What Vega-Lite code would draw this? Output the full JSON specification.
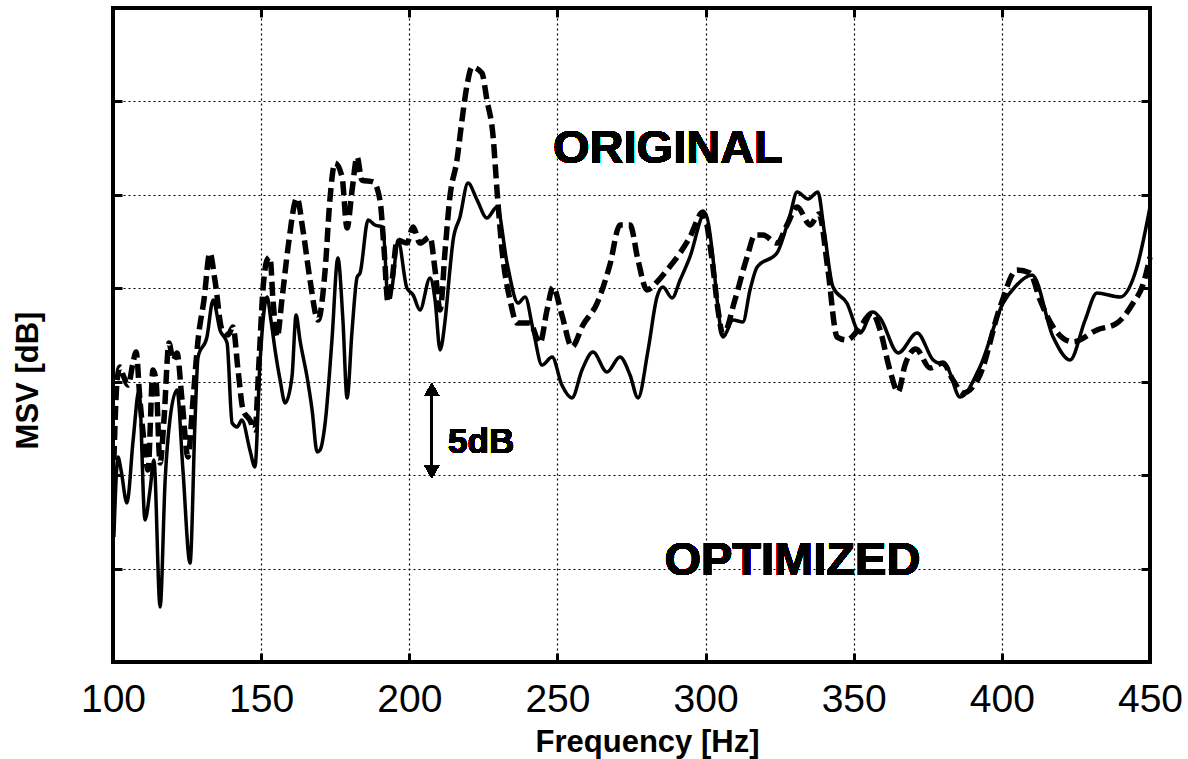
{
  "$schema": "https://vega.github.io/schema/vega-lite/v6.json",
  "width": 1037,
  "height": 654,
  "autosize": {"type": "none"},
  "padding": {"left": 113, "top": 8, "right": 38, "bottom": 97},
  "background": "white",
  "config": {
    "view": {"stroke": "black", "strokeWidth": 4},
    "font": "Liberation Sans",
    "axis": {"labelColor": "black", "titleColor": "black", "tickColor": "black", "gridColor": "black", "gridOpacity": 1}
  },
  "datasets": {
    "curves": [
      {"series": "OPTIMIZED", "freq": 100.3, "db": 6.69},
      {"series": "OPTIMIZED", "freq": 101.7, "db": 10.97},
      {"series": "OPTIMIZED", "freq": 102.7, "db": 10.28},
      {"series": "OPTIMIZED", "freq": 104.7, "db": 8.51},
      {"series": "OPTIMIZED", "freq": 106.8, "db": 11.88},
      {"series": "OPTIMIZED", "freq": 108.8, "db": 14.56},
      {"series": "OPTIMIZED", "freq": 110.8, "db": 7.6},
      {"series": "OPTIMIZED", "freq": 112.5, "db": 9.2},
      {"series": "OPTIMIZED", "freq": 113.8, "db": 10.81},
      {"series": "OPTIMIZED", "freq": 115.9, "db": 2.94},
      {"series": "OPTIMIZED", "freq": 117.6, "db": 9.74},
      {"series": "OPTIMIZED", "freq": 119.2, "db": 12.95},
      {"series": "OPTIMIZED", "freq": 121.6, "db": 14.56},
      {"series": "OPTIMIZED", "freq": 123.6, "db": 10.28},
      {"series": "OPTIMIZED", "freq": 126.0, "db": 5.3},
      {"series": "OPTIMIZED", "freq": 127.7, "db": 12.95},
      {"series": "OPTIMIZED", "freq": 128.7, "db": 16.32},
      {"series": "OPTIMIZED", "freq": 131.7, "db": 17.39},
      {"series": "OPTIMIZED", "freq": 133.8, "db": 19.37},
      {"series": "OPTIMIZED", "freq": 136.1, "db": 17.77},
      {"series": "OPTIMIZED", "freq": 138.5, "db": 17.07},
      {"series": "OPTIMIZED", "freq": 140.2, "db": 12.79},
      {"series": "OPTIMIZED", "freq": 141.9, "db": 12.58},
      {"series": "OPTIMIZED", "freq": 143.5, "db": 12.95},
      {"series": "OPTIMIZED", "freq": 146.2, "db": 11.35},
      {"series": "OPTIMIZED", "freq": 147.9, "db": 10.44},
      {"series": "OPTIMIZED", "freq": 149.6, "db": 16.0},
      {"series": "OPTIMIZED", "freq": 152.0, "db": 19.53},
      {"series": "OPTIMIZED", "freq": 153.3, "db": 18.3},
      {"series": "OPTIMIZED", "freq": 154.7, "db": 16.7},
      {"series": "OPTIMIZED", "freq": 156.4, "db": 15.09},
      {"series": "OPTIMIZED", "freq": 158.1, "db": 13.86},
      {"series": "OPTIMIZED", "freq": 160.4, "db": 15.25},
      {"series": "OPTIMIZED", "freq": 161.8, "db": 18.57},
      {"series": "OPTIMIZED", "freq": 163.1, "db": 17.23},
      {"series": "OPTIMIZED", "freq": 165.5, "db": 15.25},
      {"series": "OPTIMIZED", "freq": 167.2, "db": 13.49},
      {"series": "OPTIMIZED", "freq": 168.9, "db": 11.24},
      {"series": "OPTIMIZED", "freq": 169.9, "db": 11.35},
      {"series": "OPTIMIZED", "freq": 171.6, "db": 12.79},
      {"series": "OPTIMIZED", "freq": 173.9, "db": 17.23},
      {"series": "OPTIMIZED", "freq": 175.9, "db": 21.62},
      {"series": "OPTIMIZED", "freq": 177.6, "db": 18.3},
      {"series": "OPTIMIZED", "freq": 179.0, "db": 14.13},
      {"series": "OPTIMIZED", "freq": 180.7, "db": 17.77},
      {"series": "OPTIMIZED", "freq": 182.4, "db": 20.6},
      {"series": "OPTIMIZED", "freq": 183.4, "db": 20.82},
      {"series": "OPTIMIZED", "freq": 186.1, "db": 23.65},
      {"series": "OPTIMIZED", "freq": 188.4, "db": 23.39},
      {"series": "OPTIMIZED", "freq": 191.1, "db": 23.28},
      {"series": "OPTIMIZED", "freq": 192.8, "db": 19.53},
      {"series": "OPTIMIZED", "freq": 194.2, "db": 20.07},
      {"series": "OPTIMIZED", "freq": 196.2, "db": 22.58},
      {"series": "OPTIMIZED", "freq": 199.2, "db": 20.01},
      {"series": "OPTIMIZED", "freq": 201.3, "db": 19.64},
      {"series": "OPTIMIZED", "freq": 203.6, "db": 18.84},
      {"series": "OPTIMIZED", "freq": 207.0, "db": 20.55},
      {"series": "OPTIMIZED", "freq": 208.7, "db": 19.37},
      {"series": "OPTIMIZED", "freq": 210.4, "db": 16.7},
      {"series": "OPTIMIZED", "freq": 212.1, "db": 18.3},
      {"series": "OPTIMIZED", "freq": 213.7, "db": 20.98},
      {"series": "OPTIMIZED", "freq": 214.8, "db": 22.58},
      {"series": "OPTIMIZED", "freq": 217.1, "db": 23.81},
      {"series": "OPTIMIZED", "freq": 219.8, "db": 25.63},
      {"series": "OPTIMIZED", "freq": 222.9, "db": 24.72},
      {"series": "OPTIMIZED", "freq": 226.2, "db": 23.76},
      {"series": "OPTIMIZED", "freq": 229.6, "db": 24.35},
      {"series": "OPTIMIZED", "freq": 233.0, "db": 21.35},
      {"series": "OPTIMIZED", "freq": 236.7, "db": 19.21},
      {"series": "OPTIMIZED", "freq": 239.1, "db": 19.53},
      {"series": "OPTIMIZED", "freq": 241.8, "db": 17.77},
      {"series": "OPTIMIZED", "freq": 244.8, "db": 15.89},
      {"series": "OPTIMIZED", "freq": 248.2, "db": 16.32},
      {"series": "OPTIMIZED", "freq": 251.5, "db": 14.82},
      {"series": "OPTIMIZED", "freq": 254.9, "db": 14.13},
      {"series": "OPTIMIZED", "freq": 258.3, "db": 15.63},
      {"series": "OPTIMIZED", "freq": 262.0, "db": 16.59},
      {"series": "OPTIMIZED", "freq": 266.7, "db": 15.52},
      {"series": "OPTIMIZED", "freq": 271.1, "db": 16.32},
      {"series": "OPTIMIZED", "freq": 274.5, "db": 15.36},
      {"series": "OPTIMIZED", "freq": 277.2, "db": 14.13},
      {"series": "OPTIMIZED", "freq": 280.6, "db": 16.7},
      {"series": "OPTIMIZED", "freq": 283.6, "db": 19.53},
      {"series": "OPTIMIZED", "freq": 285.6, "db": 20.07},
      {"series": "OPTIMIZED", "freq": 288.7, "db": 19.48},
      {"series": "OPTIMIZED", "freq": 291.4, "db": 20.44},
      {"series": "OPTIMIZED", "freq": 294.7, "db": 21.67},
      {"series": "OPTIMIZED", "freq": 299.8, "db": 24.03},
      {"series": "OPTIMIZED", "freq": 302.2, "db": 22.05},
      {"series": "OPTIMIZED", "freq": 303.9, "db": 19.37},
      {"series": "OPTIMIZED", "freq": 305.9, "db": 17.39},
      {"series": "OPTIMIZED", "freq": 309.3, "db": 18.3},
      {"series": "OPTIMIZED", "freq": 312.6, "db": 18.2},
      {"series": "OPTIMIZED", "freq": 315.0, "db": 19.91},
      {"series": "OPTIMIZED", "freq": 317.4, "db": 21.14},
      {"series": "OPTIMIZED", "freq": 324.1, "db": 21.89},
      {"series": "OPTIMIZED", "freq": 328.5, "db": 23.92},
      {"series": "OPTIMIZED", "freq": 330.9, "db": 25.15},
      {"series": "OPTIMIZED", "freq": 334.6, "db": 24.78},
      {"series": "OPTIMIZED", "freq": 337.9, "db": 25.15},
      {"series": "OPTIMIZED", "freq": 340.0, "db": 23.12},
      {"series": "OPTIMIZED", "freq": 343.0, "db": 20.07},
      {"series": "OPTIMIZED", "freq": 347.7, "db": 19.21},
      {"series": "OPTIMIZED", "freq": 352.1, "db": 17.61},
      {"series": "OPTIMIZED", "freq": 356.5, "db": 18.73},
      {"series": "OPTIMIZED", "freq": 358.9, "db": 18.41},
      {"series": "OPTIMIZED", "freq": 365.0, "db": 16.54},
      {"series": "OPTIMIZED", "freq": 371.4, "db": 17.61},
      {"series": "OPTIMIZED", "freq": 376.8, "db": 16.16},
      {"series": "OPTIMIZED", "freq": 381.5, "db": 15.79},
      {"series": "OPTIMIZED", "freq": 385.9, "db": 14.18},
      {"series": "OPTIMIZED", "freq": 392.6, "db": 15.79},
      {"series": "OPTIMIZED", "freq": 400.4, "db": 19.21},
      {"series": "OPTIMIZED", "freq": 404.4, "db": 20.07},
      {"series": "OPTIMIZED", "freq": 410.2, "db": 20.71},
      {"series": "OPTIMIZED", "freq": 417.3, "db": 17.39},
      {"series": "OPTIMIZED", "freq": 423.0, "db": 16.16},
      {"series": "OPTIMIZED", "freq": 428.1, "db": 18.3},
      {"series": "OPTIMIZED", "freq": 432.1, "db": 19.75},
      {"series": "OPTIMIZED", "freq": 439.9, "db": 19.53},
      {"series": "OPTIMIZED", "freq": 445.6, "db": 21.14},
      {"series": "OPTIMIZED", "freq": 450.0, "db": 24.35},
      {"series": "ORIGINAL", "freq": 100.3, "db": 10.81},
      {"series": "ORIGINAL", "freq": 101.4, "db": 15.09},
      {"series": "ORIGINAL", "freq": 102.4, "db": 15.79},
      {"series": "ORIGINAL", "freq": 103.4, "db": 15.36},
      {"series": "ORIGINAL", "freq": 105.1, "db": 14.82},
      {"series": "ORIGINAL", "freq": 106.8, "db": 16.05},
      {"series": "ORIGINAL", "freq": 107.8, "db": 16.59},
      {"series": "ORIGINAL", "freq": 109.1, "db": 14.02},
      {"series": "ORIGINAL", "freq": 110.8, "db": 11.35},
      {"series": "ORIGINAL", "freq": 111.8, "db": 10.28},
      {"series": "ORIGINAL", "freq": 113.5, "db": 15.63},
      {"series": "ORIGINAL", "freq": 114.5, "db": 15.09},
      {"series": "ORIGINAL", "freq": 115.9, "db": 10.65},
      {"series": "ORIGINAL", "freq": 117.2, "db": 12.95},
      {"series": "ORIGINAL", "freq": 118.9, "db": 17.07},
      {"series": "ORIGINAL", "freq": 120.3, "db": 16.16},
      {"series": "ORIGINAL", "freq": 121.6, "db": 16.54},
      {"series": "ORIGINAL", "freq": 123.3, "db": 14.02},
      {"series": "ORIGINAL", "freq": 125.3, "db": 10.97},
      {"series": "ORIGINAL", "freq": 127.0, "db": 14.02},
      {"series": "ORIGINAL", "freq": 128.7, "db": 17.23},
      {"series": "ORIGINAL", "freq": 130.7, "db": 19.37},
      {"series": "ORIGINAL", "freq": 132.7, "db": 21.89},
      {"series": "ORIGINAL", "freq": 134.4, "db": 20.44},
      {"series": "ORIGINAL", "freq": 136.8, "db": 17.77},
      {"series": "ORIGINAL", "freq": 138.8, "db": 17.5},
      {"series": "ORIGINAL", "freq": 140.5, "db": 17.93},
      {"series": "ORIGINAL", "freq": 142.2, "db": 15.63},
      {"series": "ORIGINAL", "freq": 143.9, "db": 13.49},
      {"series": "ORIGINAL", "freq": 146.2, "db": 12.95},
      {"series": "ORIGINAL", "freq": 147.9, "db": 12.42},
      {"series": "ORIGINAL", "freq": 149.3, "db": 16.16},
      {"series": "ORIGINAL", "freq": 150.6, "db": 19.91},
      {"series": "ORIGINAL", "freq": 152.0, "db": 21.51},
      {"series": "ORIGINAL", "freq": 153.0, "db": 21.67},
      {"series": "ORIGINAL", "freq": 154.0, "db": 19.37},
      {"series": "ORIGINAL", "freq": 155.4, "db": 17.39},
      {"series": "ORIGINAL", "freq": 157.0, "db": 19.37},
      {"series": "ORIGINAL", "freq": 159.1, "db": 22.21},
      {"series": "ORIGINAL", "freq": 162.1, "db": 24.83},
      {"series": "ORIGINAL", "freq": 164.1, "db": 23.12},
      {"series": "ORIGINAL", "freq": 166.5, "db": 20.44},
      {"series": "ORIGINAL", "freq": 169.2, "db": 18.3},
      {"series": "ORIGINAL", "freq": 171.6, "db": 20.98},
      {"series": "ORIGINAL", "freq": 173.2, "db": 24.72},
      {"series": "ORIGINAL", "freq": 174.9, "db": 26.7},
      {"series": "ORIGINAL", "freq": 177.3, "db": 25.96},
      {"series": "ORIGINAL", "freq": 179.0, "db": 23.23},
      {"series": "ORIGINAL", "freq": 180.7, "db": 25.26},
      {"series": "ORIGINAL", "freq": 182.4, "db": 27.03},
      {"series": "ORIGINAL", "freq": 184.0, "db": 25.79},
      {"series": "ORIGINAL", "freq": 187.8, "db": 25.69},
      {"series": "ORIGINAL", "freq": 190.1, "db": 24.72},
      {"series": "ORIGINAL", "freq": 191.5, "db": 22.05},
      {"series": "ORIGINAL", "freq": 192.8, "db": 19.27},
      {"series": "ORIGINAL", "freq": 194.2, "db": 20.44},
      {"series": "ORIGINAL", "freq": 195.9, "db": 22.58},
      {"series": "ORIGINAL", "freq": 199.2, "db": 22.42},
      {"series": "ORIGINAL", "freq": 201.3, "db": 23.28},
      {"series": "ORIGINAL", "freq": 203.6, "db": 22.42},
      {"series": "ORIGINAL", "freq": 207.0, "db": 22.74},
      {"series": "ORIGINAL", "freq": 208.7, "db": 20.98},
      {"series": "ORIGINAL", "freq": 210.4, "db": 18.84},
      {"series": "ORIGINAL", "freq": 212.1, "db": 22.05},
      {"series": "ORIGINAL", "freq": 213.7, "db": 24.88},
      {"series": "ORIGINAL", "freq": 216.1, "db": 26.87},
      {"series": "ORIGINAL", "freq": 217.8, "db": 29.01},
      {"series": "ORIGINAL", "freq": 219.5, "db": 30.88},
      {"series": "ORIGINAL", "freq": 221.2, "db": 31.84},
      {"series": "ORIGINAL", "freq": 224.5, "db": 31.52},
      {"series": "ORIGINAL", "freq": 226.2, "db": 30.08},
      {"series": "ORIGINAL", "freq": 228.3, "db": 28.1},
      {"series": "ORIGINAL", "freq": 229.6, "db": 25.26},
      {"series": "ORIGINAL", "freq": 231.3, "db": 22.05},
      {"series": "ORIGINAL", "freq": 234.0, "db": 19.37},
      {"series": "ORIGINAL", "freq": 236.4, "db": 18.14},
      {"series": "ORIGINAL", "freq": 240.7, "db": 18.14},
      {"series": "ORIGINAL", "freq": 244.1, "db": 17.07},
      {"series": "ORIGINAL", "freq": 246.5, "db": 18.84},
      {"series": "ORIGINAL", "freq": 248.5, "db": 20.07},
      {"series": "ORIGINAL", "freq": 251.5, "db": 18.57},
      {"series": "ORIGINAL", "freq": 254.9, "db": 16.86},
      {"series": "ORIGINAL", "freq": 258.6, "db": 18.03},
      {"series": "ORIGINAL", "freq": 263.4, "db": 19.21},
      {"series": "ORIGINAL", "freq": 267.7, "db": 21.25},
      {"series": "ORIGINAL", "freq": 271.1, "db": 23.39},
      {"series": "ORIGINAL", "freq": 274.5, "db": 23.39},
      {"series": "ORIGINAL", "freq": 277.2, "db": 21.51},
      {"series": "ORIGINAL", "freq": 280.2, "db": 19.91},
      {"series": "ORIGINAL", "freq": 283.6, "db": 20.34},
      {"series": "ORIGINAL", "freq": 287.0, "db": 20.98},
      {"series": "ORIGINAL", "freq": 291.4, "db": 21.89},
      {"series": "ORIGINAL", "freq": 294.7, "db": 22.74},
      {"series": "ORIGINAL", "freq": 299.1, "db": 24.08},
      {"series": "ORIGINAL", "freq": 302.2, "db": 21.51},
      {"series": "ORIGINAL", "freq": 304.2, "db": 18.84},
      {"series": "ORIGINAL", "freq": 305.9, "db": 17.5},
      {"series": "ORIGINAL", "freq": 309.9, "db": 19.37},
      {"series": "ORIGINAL", "freq": 314.0, "db": 21.67},
      {"series": "ORIGINAL", "freq": 316.7, "db": 22.85},
      {"series": "ORIGINAL", "freq": 319.4, "db": 22.85},
      {"series": "ORIGINAL", "freq": 324.1, "db": 22.42},
      {"series": "ORIGINAL", "freq": 327.5, "db": 23.39},
      {"series": "ORIGINAL", "freq": 330.9, "db": 24.35},
      {"series": "ORIGINAL", "freq": 335.3, "db": 23.39},
      {"series": "ORIGINAL", "freq": 338.3, "db": 23.98},
      {"series": "ORIGINAL", "freq": 341.3, "db": 20.98},
      {"series": "ORIGINAL", "freq": 344.4, "db": 17.39},
      {"series": "ORIGINAL", "freq": 347.7, "db": 17.23},
      {"series": "ORIGINAL", "freq": 351.5, "db": 17.77},
      {"series": "ORIGINAL", "freq": 356.2, "db": 18.68},
      {"series": "ORIGINAL", "freq": 358.9, "db": 17.77},
      {"series": "ORIGINAL", "freq": 362.2, "db": 15.63},
      {"series": "ORIGINAL", "freq": 365.0, "db": 14.45},
      {"series": "ORIGINAL", "freq": 367.3, "db": 15.89},
      {"series": "ORIGINAL", "freq": 371.0, "db": 16.75},
      {"series": "ORIGINAL", "freq": 375.8, "db": 15.73},
      {"series": "ORIGINAL", "freq": 380.1, "db": 16.0},
      {"series": "ORIGINAL", "freq": 383.5, "db": 15.09},
      {"series": "ORIGINAL", "freq": 386.9, "db": 14.4},
      {"series": "ORIGINAL", "freq": 392.6, "db": 15.36},
      {"series": "ORIGINAL", "freq": 399.4, "db": 19.0},
      {"series": "ORIGINAL", "freq": 405.1, "db": 20.98},
      {"series": "ORIGINAL", "freq": 409.5, "db": 20.82},
      {"series": "ORIGINAL", "freq": 412.9, "db": 19.37},
      {"series": "ORIGINAL", "freq": 417.3, "db": 17.93},
      {"series": "ORIGINAL", "freq": 424.0, "db": 17.13},
      {"series": "ORIGINAL", "freq": 432.1, "db": 17.77},
      {"series": "ORIGINAL", "freq": 438.9, "db": 18.14},
      {"series": "ORIGINAL", "freq": 444.3, "db": 19.21},
      {"series": "ORIGINAL", "freq": 447.6, "db": 20.18},
      {"series": "ORIGINAL", "freq": 450.0, "db": 21.67}
    ]
  },
  "data": {"name": "curves"},
  "layer": [
    {
      "transform": [{"filter": "datum.series === 'OPTIMIZED'"}],
      "mark": {"type": "line", "color": "black", "strokeWidth": 3.5, "interpolate": "monotone"},
      "encoding": {
        "x": {
          "field": "freq", "type": "quantitative",
          "scale": {"domain": [100, 450], "nice": false, "zero": false},
          "axis": {
            "orient": "bottom", "values": [100, 150, 200, 250, 300, 350, 400, 450],
            "title": "Frequency [Hz]", "titleFontSize": 31, "titleFontWeight": "bold",
            "titleX": 534, "titleY": 89, "titleBaseline": "alphabetic",
            "labelFontSize": 39, "labelFontWeight": "normal", "labelBaseline": "alphabetic",
            "labelPadding": 58, "labelFlush": false, "labelOverlap": false,
            "tickSize": -9, "tickWidth": 3, "domain": false,
            "grid": true, "gridDash": [2, 3], "gridWidth": 1.2
          }
        },
        "y": {
          "field": "db", "type": "quantitative",
          "scale": {"domain": [0, 35], "nice": false, "zero": false},
          "axis": {
            "orient": "left", "values": [5, 10, 15, 20, 25, 30], "labels": false,
            "title": "MSV [dB]", "titleFontSize": 31, "titleFontWeight": "bold",
            "titleX": -76, "titleY": 372, "titleBaseline": "alphabetic", "titleAngle": 270,
            "tickSize": -9, "tickWidth": 3, "domain": false,
            "grid": true, "gridDash": [2, 3], "gridWidth": 1.2
          }
        }
      }
    },
    {
      "transform": [{"filter": "datum.series === 'ORIGINAL'"}],
      "mark": {"type": "line", "color": "black", "strokeWidth": 5.5, "strokeDash": [14, 6], "interpolate": "monotone"},
      "encoding": {
        "x": {"field": "freq", "type": "quantitative", "axis": null},
        "y": {"field": "db", "type": "quantitative", "axis": null}
      }
    },
    {
      "mark": {"type": "rule", "color": "black", "strokeWidth": 2},
      "encoding": {
        "x": {
          "datum": 207.6, "type": "quantitative",
          "axis": {
            "orient": "top", "values": [150, 200, 250, 300, 350, 400], "labels": false,
            "title": null, "tickSize": -9, "tickWidth": 3, "domain": false, "grid": false
          }
        },
        "y": {
          "datum": 14.6, "type": "quantitative",
          "axis": {
            "orient": "right", "values": [5, 10, 15, 20, 25, 30], "labels": false,
            "title": null, "tickSize": -9, "tickWidth": 3, "domain": false, "grid": false
          }
        },
        "y2": {"datum": 10.2}
      }
    },
    {
      "mark": {"type": "point", "shape": "triangle-up", "filled": true, "color": "black", "size": 220, "opacity": 1},
      "encoding": {
        "x": {"datum": 207.6, "type": "quantitative", "axis": null},
        "y": {"datum": 14.58, "type": "quantitative", "axis": null}
      }
    },
    {
      "mark": {"type": "point", "shape": "triangle-down", "filled": true, "color": "black", "size": 220, "opacity": 1},
      "encoding": {
        "x": {"datum": 207.6, "type": "quantitative", "axis": null},
        "y": {"datum": 10.19, "type": "quantitative", "axis": null}
      }
    },
    {
      "mark": {"type": "text", "font": "Liberation Sans", "fontWeight": "bold", "fontSize": 47, "align": "center", "baseline": "alphabetic", "color": "black"},
      "encoding": {
        "x": {"datum": 287.3, "type": "quantitative", "axis": null},
        "y": {"datum": 26.7, "type": "quantitative", "axis": null},
        "text": {"value": "ORIGINAL"}
      }
    },
    {
      "mark": {"type": "text", "font": "Liberation Sans", "fontWeight": "bold", "fontSize": 47, "align": "center", "baseline": "alphabetic", "color": "black"},
      "encoding": {
        "x": {"datum": 329.3, "type": "quantitative", "axis": null},
        "y": {"datum": 4.66, "type": "quantitative", "axis": null},
        "text": {"value": "OPTIMIZED"}
      }
    },
    {
      "mark": {"type": "text", "font": "Liberation Sans", "fontWeight": "bold", "fontSize": 35, "align": "left", "baseline": "alphabetic", "color": "black"},
      "encoding": {
        "x": {"datum": 213.1, "type": "quantitative", "axis": null},
        "y": {"datum": 11.18, "type": "quantitative", "axis": null},
        "text": {"value": "5dB"}
      }
    }
  ],
  "resolve": {"axis": {"x": "independent", "y": "independent"}}
}
